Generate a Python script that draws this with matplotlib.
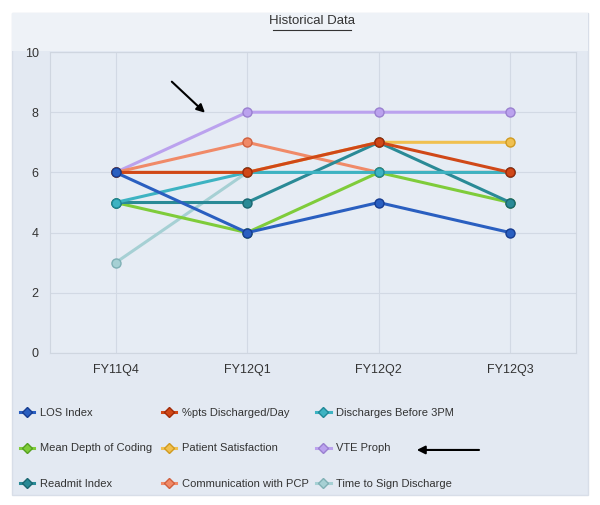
import matplotlib
matplotlib.use("Agg")
import matplotlib.pyplot as plt
from matplotlib.patches import Rectangle
from matplotlib.lines import Line2D

categories = ["FY11Q4", "FY12Q1", "FY12Q2", "FY12Q3"]
los_index = [6, 4, 5, 4]
pts_discharged = [6, 6, 7, 6]
discharges_3pm = [5, 6, 6, 6]
mean_depth = [5, 4, 6, 5]
patient_sat = [6, 6, 7, 7]
vte_proph = [6, 8, 8, 8]
readmit = [5, 5, 7, 5]
comm_pcp = [6, 7, 6, 6]
time_sign = [3, 6, 6, 6]

series = [
    ("Time to Sign Discharge", time_sign, "#a6d0d4", "#7fb0b5"),
    ("VTE Proph", vte_proph, "#bba2ee", "#9a80d0"),
    ("Communication with PCP", comm_pcp, "#f08a68", "#d0603e"),
    ("Patient Satisfaction", patient_sat, "#f0c050", "#d09a20"),
    ("Mean Depth of Coding", mean_depth, "#7fcc3a", "#55a020"),
    ("Readmit Index", readmit, "#2a8a96", "#1a6670"),
    ("Discharges Before 3PM", discharges_3pm, "#3db3c2", "#1f8898"),
    ("%pts Discharged/Day", pts_discharged, "#d04818", "#a02a08"),
    ("LOS Index", los_index, "#2a5fc0", "#163c90"),
]

plt.rcParams['font.family'] = ['Liberation Sans', 'DejaVu Sans']

fig = plt.figure(figsize=(6.0, 5.05), dpi=100)
fig.patch.set_facecolor("white")
fig.patches.append(Rectangle((0.02, 0.02), 0.96, 0.955, transform=fig.transFigure,
                             facecolor="#e3e9f2", edgecolor="#d8dee8", zorder=-10))
fig.patches.append(Rectangle((0.02, 0.90), 0.96, 0.075, transform=fig.transFigure,
                             facecolor="#eef2f7", edgecolor="none", zorder=-9))

ax = fig.add_axes([0.083, 0.301, 0.877, 0.596])
ax.set_facecolor("#e6ecf4")
x = list(range(len(categories)))
handles = {}
for name, vals, col, edge in series:
    h, = ax.plot(x, vals, color=col, lw=2.2, marker="o", markersize=6.5,
                 markerfacecolor=col, markeredgecolor=edge, markeredgewidth=1.0,
                 label=name)
    handles[name] = h

ax.set_xlim(-0.5, 3.5)
ax.set_ylim(0, 10)
ax.set_xticks(x)
ax.set_xticklabels(categories, fontsize=9, color="#333333")
ax.set_yticks([0, 2, 4, 6, 8, 10])
ax.tick_params(axis='both', length=0, labelsize=9, colors="#333333", pad=8)
ax.grid(True, color="#d2d9e4", lw=0.8)
ax.set_axisbelow(True)
for s in ax.spines.values():
    s.set_color("#cfd6e0")

legend_cols = [
    ["LOS Index", "Mean Depth of Coding", "Readmit Index"],
    ["%pts Discharged/Day", "Patient Satisfaction", "Communication with PCP"],
    ["Discharges Before 3PM", "VTE Proph", "Time to Sign Discharge"],
]
col_x = [0.033, 0.27, 0.527]
for names, cx in zip(legend_cols, col_x):
    lh = []
    for n in names:
        h = handles[n]
        lh.append(Line2D([0], [0], color=h.get_color(), lw=2.2, marker="D",
                         markersize=5.5, markerfacecolor=h.get_color(),
                         markeredgecolor=h.get_markeredgecolor()))
    fig.legend(lh, names, loc="center left", bbox_to_anchor=(cx, 0.112),
               frameon=False, fontsize=8, handlelength=1.3,
               handletextpad=0.5, labelspacing=2.3, borderaxespad=0,
               borderpad=0, labelcolor="#333333")

fig.text(0.52, 0.958, "Historical Data", ha="center", va="center",
         fontsize=9.5, color="#333333")
fig.add_artist(Line2D([0.455, 0.585], [0.941, 0.941], color="#333333", lw=0.8,
                      transform=fig.transFigure))

fig.add_artist(plt.Annotation("", xy=(0.345, 0.773), xytext=(0.283, 0.842),
                              xycoords="figure fraction", textcoords="figure fraction",
                              arrowprops=dict(arrowstyle="-|>", color="black", lw=1.5,
                                              mutation_scale=12)))
fig.add_artist(plt.Annotation("", xy=(0.69, 0.109), xytext=(0.803, 0.109),
                              xycoords="figure fraction", textcoords="figure fraction",
                              arrowprops=dict(arrowstyle="-|>", color="black", lw=1.5,
                                              mutation_scale=12)))

fig.savefig("out.png", dpi=100)
